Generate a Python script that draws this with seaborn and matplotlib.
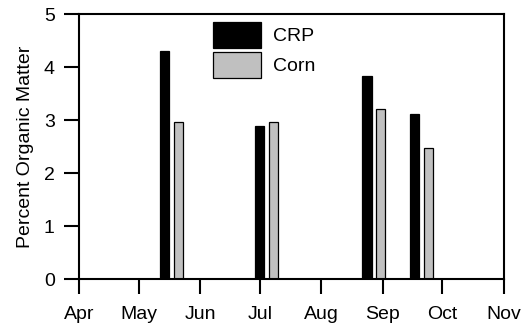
import pandas as pd
import numpy as np
import matplotlib
matplotlib.use("Agg")
import matplotlib.pyplot as plt
import seaborn as sns

# ---- data ----
crp_dates = ["2001-05-14", "2001-07-01", "2001-08-24", "2001-09-17"]
crp_values = [4.30, 2.89, 3.83, 3.11]
corn_dates = ["2001-05-21", "2001-07-08", "2001-08-31", "2001-09-24"]
corn_values = [2.97, 2.97, 3.22, 2.48]
series_names = ["CRP", "Corn"]
month_starts = ["2001-04-01", "2001-05-01", "2001-06-01", "2001-07-01",
                "2001-08-01", "2001-09-01", "2001-10-01", "2001-11-01"]
month_labels = ["Apr", "May", "Jun", "Jul", "Aug", "Sep", "Oct", "Nov"]
y_ticks = [0, 1, 2, 3, 4, 5]

origin = pd.Timestamp(month_starts[0])
def to_days(ds):
    return [(pd.Timestamp(d) - origin).days for d in ds]

df = pd.DataFrame({
    "day": to_days(crp_dates) + to_days(corn_dates),
    "value": crp_values + corn_values,
    "series": [series_names[0]] * len(crp_values) + [series_names[1]] * len(corn_values),
})

sns.set_theme(style="ticks")
plt.rcParams["font.family"] = ["Liberation Sans", "DejaVu Sans"]
plt.rcParams["text.color"] = "black"
plt.rcParams["axes.labelcolor"] = "black"
fs = 14

fig = plt.figure(figsize=(5.25, 3.28), dpi=100)
ax = fig.add_axes([0.1505, 0.1485, 0.8095, 0.8085])

bar_days = 4.6
min_gap = np.min(np.diff(np.sort(df["day"].unique())))
sns.barplot(data=df, x="day", y="value", hue="series", native_scale=True,
            dodge=False, errorbar=None, width=bar_days / min_gap,
            palette={"CRP": "#000000", "Corn": "#c0c0c0"},
            edgecolor="black", linewidth=0.9, saturation=1, ax=ax)

month_days = to_days(month_starts)
ax.set_xlim(month_days[0], month_days[-1])
ax.set_xticks(month_days)
ax.set_xticklabels(month_labels)
ax.set_ylim(0, 5)
ax.set_yticks(y_ticks)
ax.set_xlabel("")
ax.set_ylabel("Percent Organic Matter", fontsize=fs, labelpad=7, color="black")

for s in ax.spines.values():
    s.set_visible(True)
    s.set_linewidth(1.5)
    s.set_color("black")
ax.tick_params(axis="both", direction="out", length=10.5, width=1.5,
               colors="black", labelsize=fs)
ax.tick_params(axis="y", pad=7)
ax.tick_params(axis="x", pad=9)

leg = ax.legend(loc="upper left", bbox_to_anchor=(0.3146, 0.971), frameon=False,
                fontsize=fs, handlelength=2.5, handleheight=1.70, labelspacing=0.2,
                handletextpad=0.6, borderpad=0, borderaxespad=0)
for t in leg.get_texts():
    t.set_color("black")

fig.savefig("out.png", dpi=100)
